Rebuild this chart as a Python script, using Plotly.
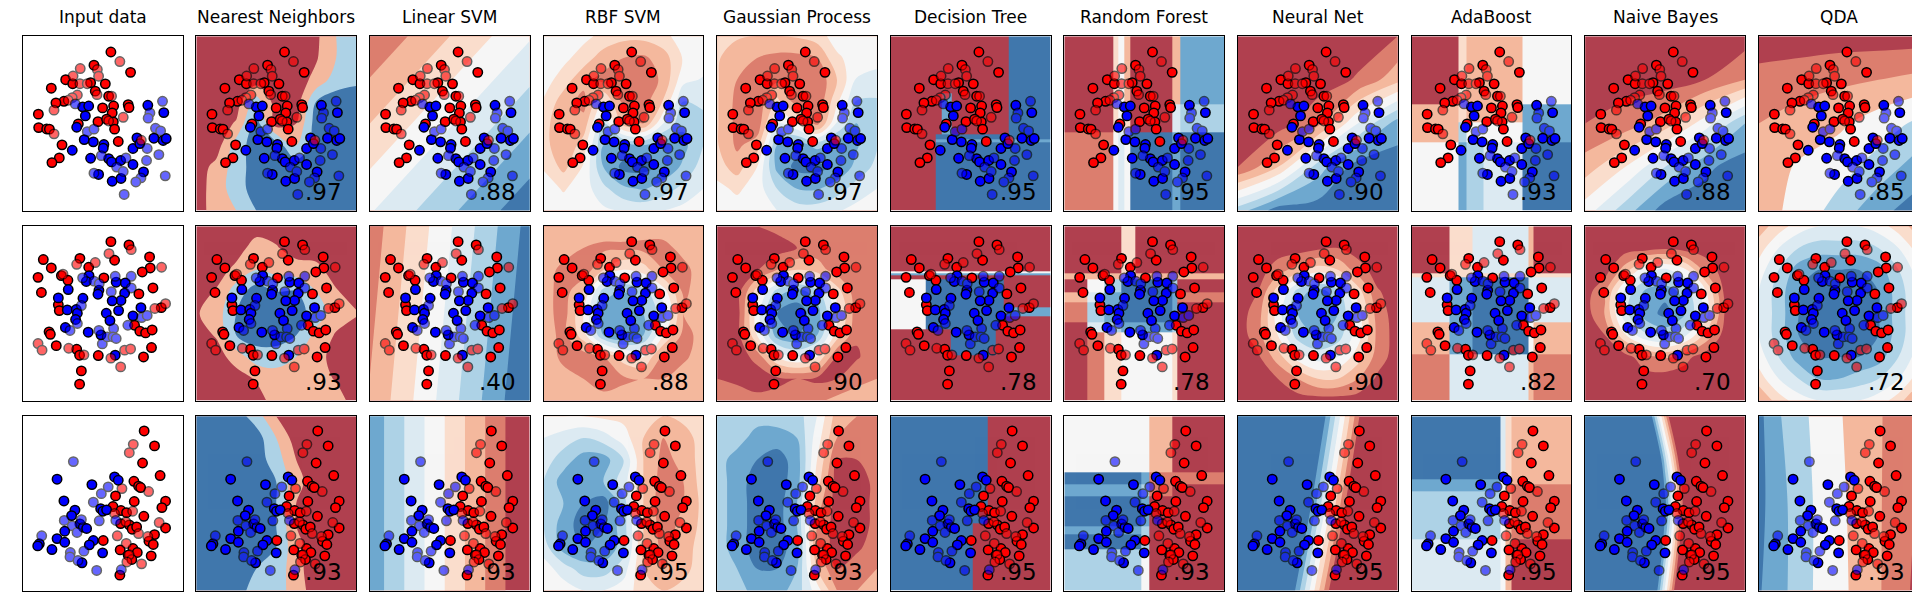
import numpy as np
import plotly.graph_objects as go

W, H = 1920, 597

TITLES = ["Input data", "Nearest Neighbors", "Linear SVM", "RBF SVM", "Gaussian Process",
          "Decision Tree", "Random Forest", "Neural Net", "AdaBoost", "Naive Bayes", "QDA"]

SCORES_MOONS = [".97", ".88", ".97", ".97", ".95", ".95", ".90", ".93", ".88", ".85"]
SCORES_CIRCLES = [".93", ".40", ".88", ".90", ".78", ".78", ".90", ".82", ".70", ".72"]
SCORES_LINEAR = [".93", ".93", ".95", ".93", ".95", ".93", ".95", ".95", ".95", ".93"]

# ---- points (panel spans 0..10 on both axes) ----
MOONS_RED_TRAIN = [(5.52, 9.10), (4.46, 8.34), (6.75, 7.93), (2.69, 7.51), (3.13, 7.28), (4.25, 7.34),
                   (5.17, 7.27), (1.79, 7.02), (4.54, 6.85), (5.38, 6.56), (2.58, 6.27), (2.08, 6.18),
                   (0.98, 5.53), (5.00, 5.89), (5.69, 6.00), (6.60, 6.08), (6.65, 5.91), (5.60, 5.60),
                   (4.71, 5.10), (5.25, 5.24), (5.67, 5.09), (3.48, 4.97), (5.75, 4.67), (1.00, 4.76),
                   (1.50, 4.68), (1.67, 4.67), (2.46, 3.77), (5.98, 3.96), (2.29, 3.02), (1.83, 2.75)]
MOONS_RED_TEST = [(6.08, 8.55), (3.60, 8.15), (4.67, 8.09), (4.75, 7.71), (3.15, 7.72), (3.58, 7.28),
                  (4.04, 7.28), (4.65, 6.65), (5.56, 6.56), (3.42, 6.63), (3.10, 6.48), (2.85, 6.33),
                  (1.96, 5.76), (6.29, 5.35), (5.38, 5.14), (1.96, 4.40), (7.42, 4.03)]
MOONS_BLUE_TRAIN = [(3.75, 5.95), (4.13, 6.00), (3.92, 5.43), (3.38, 4.78), (3.85, 4.07), (4.42, 3.94),
                    (5.08, 3.79), (5.04, 3.58), (4.25, 3.00), (3.10, 3.46), (7.83, 6.04), (8.83, 5.62),
                    (8.21, 4.15), (8.79, 4.02), (8.98, 4.13), (7.15, 4.17), (6.90, 3.56), (7.33, 3.84),
                    (5.38, 2.98), (5.56, 2.79), (6.13, 2.87), (5.60, 1.68), (4.75, 2.07), (6.15, 1.84),
                    (6.90, 2.64), (7.56, 2.22)]
MOONS_BLUE_TEST = [(8.75, 6.27), (7.96, 5.60), (7.85, 5.30), (3.29, 6.12), (4.04, 4.53), (4.46, 4.67),
                   (8.31, 4.72), (8.63, 4.57), (7.79, 3.56), (7.75, 2.87), (8.52, 3.21), (4.92, 3.15),
                   (5.88, 2.49), (6.46, 3.02), (6.29, 2.24), (4.46, 2.14), (7.40, 1.87), (7.08, 1.64),
                   (8.92, 1.99), (6.35, 0.92)]

CIRCLES_RED_TRAIN = [(5.52, 9.12), (6.65, 8.93), (5.75, 8.05), (3.58, 8.16), (1.29, 8.09), (1.79, 7.61),
                     (4.13, 7.65), (7.94, 8.24), (7.98, 7.61), (7.48, 7.38), (0.96, 7.07), (2.42, 7.17),
                     (2.83, 6.90), (5.08, 7.04), (1.17, 6.20), (8.15, 6.46), (7.27, 6.12), (2.23, 5.49),
                     (2.29, 5.16), (8.67, 5.33), (7.00, 4.32), (7.33, 3.98), (7.69, 3.88), (8.10, 4.05),
                     (1.65, 3.94), (1.73, 3.80), (2.10, 3.15), (3.38, 2.94), (3.56, 2.60), (4.73, 2.58),
                     (8.06, 3.04), (7.56, 2.50), (3.67, 1.70), (3.56, 0.94)]
CIRCLES_RED_TEST = [(6.79, 8.66), (5.40, 8.43), (3.38, 7.82), (4.54, 7.92), (8.69, 7.65), (2.52, 7.25),
                    (8.27, 5.28), (8.94, 5.56), (0.96, 3.27), (1.21, 2.89), (2.88, 3.00), (3.83, 2.62),
                    (5.52, 2.43), (6.38, 2.89), (6.75, 2.96), (6.13, 1.93)]
CIRCLES_BLUE_TRAIN = [(4.15, 7.17), (3.98, 6.83), (2.85, 6.37), (4.77, 6.33), (4.71, 6.10), (5.85, 6.79),
                      (6.42, 6.75), (6.38, 6.16), (6.15, 5.74), (5.60, 5.72), (2.23, 5.89), (3.77, 5.87),
                      (2.79, 5.20), (3.35, 5.22), (3.42, 5.01), (3.31, 4.65), (6.00, 5.16), (5.23, 5.01),
                      (5.46, 4.59), (7.40, 5.33), (6.90, 4.86), (2.67, 4.19), (4.10, 3.92), (4.90, 3.77),
                      (5.79, 2.60)]
CIRCLES_BLUE_TEST = [(3.75, 7.04), (4.46, 6.85), (4.79, 6.71), (5.79, 7.13), (6.79, 7.13), (6.79, 6.46),
                     (5.54, 6.25), (3.67, 5.45), (3.42, 4.42), (2.96, 4.02), (4.77, 4.02), (5.69, 4.13),
                     (6.58, 4.32), (7.44, 4.76), (7.79, 4.88), (4.98, 3.25), (5.29, 3.65), (5.65, 3.65),
                     (5.85, 3.56)]

LINEAR_RED_TRAIN = [(7.60, 9.16), (8.25, 8.30), (7.50, 7.32), (8.60, 6.60), (6.96, 6.27), (7.25, 5.99),
                    (7.38, 5.91), (5.81, 5.43), (6.98, 5.11), (8.94, 5.13), (8.71, 4.76), (5.65, 4.82),
                    (6.15, 4.59), (6.50, 4.47), (7.58, 4.26), (6.13, 3.84), (6.67, 3.77), (6.85, 3.52),
                    (7.13, 3.65), (8.94, 3.59), (8.25, 3.21), (7.90, 2.83), (8.17, 2.64), (5.04, 2.87),
                    (6.10, 2.33), (6.90, 2.41), (7.17, 2.18), (6.60, 2.03), (6.83, 1.78), (8.04, 1.99),
                    (6.08, 0.88)]
LINEAR_RED_TEST = [(6.92, 8.39), (6.67, 7.91), (6.21, 5.85), (7.88, 5.68), (5.75, 4.42), (6.88, 4.55),
                   (6.46, 3.94), (7.25, 3.27), (8.54, 3.90), (5.92, 3.14), (7.83, 3.10), (6.48, 2.70),
                   (6.67, 2.05), (6.52, 1.64), (7.44, 1.53)]
LINEAR_BLUE_TRAIN = [(2.15, 6.39), (4.33, 6.08), (5.75, 6.52), (5.98, 6.33), (2.58, 5.14), (3.27, 4.61),
                     (3.06, 4.30), (4.88, 4.70), (5.02, 4.55), (5.25, 4.63), (3.58, 3.82), (3.79, 3.63),
                     (4.00, 3.56), (2.63, 3.40), (2.15, 2.98), (2.63, 2.77), (1.04, 2.68), (0.94, 2.56),
                     (1.83, 2.35), (4.42, 2.87), (4.17, 2.62), (5.00, 2.16), (3.71, 1.59)]
LINEAR_BLUE_TEST = [(6.17, 1.19), (3.17, 7.40), (5.35, 5.95), (4.92, 5.56), (4.42, 5.07), (2.60, 4.02),
                    (3.10, 3.71), (3.67, 4.07), (3.40, 3.33), (4.79, 4.00), (5.83, 4.02), (1.19, 3.14),
                    (2.98, 2.18), (2.96, 1.93), (3.46, 1.72), (3.83, 2.26), (4.63, 1.15)]

# ---- surface colours (RdBu at alpha 0.8 on white) ----
DR, SA, PE, LP, WH = "#B0404F", "#DC7E6E", "#F4B89D", "#FADDCC", "#F6F6F6"
VB, LB, MB, DB = "#DCEAF2", "#ADD2E6", "#6EA8CF", "#4077AC"
BANDS9 = [DR, SA, PE, LP, WH, VB, LB, MB, DB]
BANDS_KNN = [DR, PE, LB, DB]
BANDS_QDA = [DR, SA, PE, WH, LB, MB, DB]

# ---- decision surfaces: grids are band levels, rows listed top (y=10) to bottom (y=0) ----
MOONS_KNN = [[0, 0, 0, 0, 0, 0, 0.3, 1.5, 2],
             [0, 0, 0, 0, 0, 0, 0.4, 1.5, 2],
             [0, 0, 0, 0, 0, 0, 0.8, 2, 2.3],
             [0, 0, 0, 2, 0, 0, 2.5, 3, 3],
             [0, 0, 0.6, 3, 0, 0.5, 3, 3, 3],
             [0, 0, 2, 3, 3, 1.5, 3, 3, 3],
             [0, 0.8, 2, 3, 3, 3, 3, 3, 3],
             [0, 1, 2, 3, 3, 3, 3, 3, 3],
             [0, 1, 1.5, 2.5, 3, 3, 3, 3, 3]]
MOONS_LSVM = [[0.6, 2.5, 4.4],
              [2.5, 4.4, 6.3],
              [4.4, 6.3, 8.2]]
MOONS_RBF = [[4, 4, 3.8, 3.2, 2.8, 2.8, 3.2, 4, 4],
             [4, 3.8, 3.0, 2.0, 1.5, 1.3, 2.0, 3.6, 4],
             [4, 3.0, 1.8, 1.2, 0.9, 0.9, 1.7, 4.2, 4.6],
             [3.4, 2.0, 1.2, 3.5, 1.2, 1.0, 2.6, 5.5, 5.3],
             [3.0, 1.5, 1.8, 5.5, 2.0, 1.5, 4.5, 6.3, 5.8],
             [3.0, 1.5, 3.0, 6.5, 6.8, 6.5, 7, 6.8, 5.5],
             [3.4, 2.2, 3.6, 6.5, 7.8, 7.8, 7.3, 6.3, 5],
             [4, 3.4, 4, 5.2, 6.3, 6.6, 6, 5.2, 4.5],
             [4, 4, 4, 4.3, 4.6, 4.8, 4.5, 4.2, 4]]
MOONS_GP = [[3, 2.6, 2.5, 2.5, 2.6, 3, 4, 4, 4],
            [2.6, 2, 1.5, 1.2, 1.2, 1.5, 3.3, 4, 4],
            [2.6, 1.5, 1, 1.3, 0.6, 0.6, 2.5, 4.6, 5],
            [2.6, 1.2, 0.7, 2.8, 1, 0.6, 3.3, 5.6, 5.6],
            [2.6, 1.2, 0.8, 4.5, 3.5, 1, 4.6, 6.5, 6],
            [2.6, 1.3, 2, 6.5, 7, 6.2, 6.8, 6.6, 5.6],
            [3, 2, 3.5, 6.8, 7.8, 7.8, 7.3, 6.2, 5.2],
            [3.8, 3.3, 4, 5.5, 6.5, 6.6, 6, 5, 4.5],
            [4, 4, 4, 4.5, 5, 5, 4.6, 4.2, 4]]
MOONS_TREE = ([0, 2.84, 3.19, 3.82, 7.40, 10], [0, 3.9, 4.06, 4.38, 6.70, 10],
              [[0, 0, 0, 0, 8],
               [0, 0, 7, 0, 8],
               [0, 8, 8, 8, 8],
               [0, 7, 7, 7, 7],
               [0, 8, 8, 8, 8]])
MOONS_FOREST = ([0, 3.05, 3.4, 3.75, 4.1, 6.74, 7.26, 10], [0, 4.48, 6.1, 10],
                [[0, 3, 4, 2, 0, 2, 7],
                 [0, 3, 4, 3, 0, 5, 6],
                 [1, 4, 5, 4, 8, 7, 8]])
MOONS_MLP = [[0, 0, 0, 0, 0.5],
             [0, 0, 0, 0.6, 2.2],
             [0, 0, 1.2, 4.5, 7],
             [0.5, 2.5, 6, 8, 8],
             [6, 8, 8, 8, 8]]
MOONS_ADA = ([0, 2.91, 3.44, 4.49, 6.95, 10], [0, 3.9, 5.05, 6.1, 10],
             [[0, 3, 2, 2, 4],
              [2, 3, 2, 2, 7],
              [2, 6, 4, 4, 7],
              [4, 7, 6, 5, 8]])
MOONS_NB = [[0, 0, 0, 0, 0],
            [0, 0, 0, 0.5, 1.5],
            [0.5, 1, 2, 4, 6.5],
            [2, 3.5, 5.5, 7.3, 8],
            [4, 6, 8, 8, 8]]
MOONS_QDA = [[0, 0, 0, 0, 0],
             [0.8, 1.0, 1.3, 1.5, 1.8],
             [1.5, 2.0, 2.3, 3.0, 3.7],
             [2.0, 2.6, 3.1, 3.9, 5.0],
             [2.0, 2.85, 3.9, 5.2, 6.0]]

CIRCLES_KNN = [[0, 0, 0, 0, 0, 0, 0, 0, 0],
               [0, 0, 0, 1, 0.6, 0, 0, 0, 0],
               [0, 0, 0.8, 1.5, 1.2, 1, 0.8, 0, 0],
               [0, 0.6, 2, 3, 2.5, 2.5, 1.5, 0.6, 0],
               [0.4, 1, 2.5, 3, 3, 3, 2, 1, 0.6],
               [0, 0.6, 2.5, 3, 3, 2.5, 1.2, 0.4, 0],
               [0, 0, 1, 2, 2, 1.5, 1, 0, 0],
               [0, 0, 0, 0.6, 1, 1, 1, 0.4, 0],
               [0, 0, 0, 0, 1, 1, 1, 1, 0]]
CIRCLES_LSVM = [[0.9, 4.4, 7.9],
                [1.25, 4.75, 8.25],
                [1.6, 5.1, 8.6]]
CIRCLES_RBF = [[2, 2, 2, 2, 2, 2, 2, 2, 2],
               [2, 2, 1.5, 1.3, 1.3, 1.2, 1.2, 1.8, 2],
               [2, 1.2, 0.8, 2.5, 3.5, 3, 1.5, 1.2, 2],
               [2, 1, 2.5, 6, 6.5, 6, 4, 1.3, 2],
               [2, 1, 3.5, 7, 7, 6.5, 5, 1.5, 2],
               [2, 1.2, 3, 6.5, 7.5, 6.5, 3.5, 1.2, 1.8],
               [2, 1.3, 1, 1.5, 3, 3.5, 1.2, 1.3, 2],
               [2, 1.8, 1.5, 0.8, 1.3, 1.5, 1.5, 2, 2],
               [2, 2, 2, 2, 2, 2, 2, 2, 2]]
CIRCLES_GP = [[0.5, 0.5, 0.5, 0.8, 1, 1, 1, 1, 1],
              [0.3, 0, 0, 0, 0.5, 1, 1, 1, 1],
              [0.3, 0, 0.4, 1.5, 2.5, 2, 1, 0.8, 1],
              [0.3, 0, 3, 6, 7, 6, 3, 0.8, 1],
              [0.3, 0, 4, 7.5, 8, 7, 4, 0.8, 1],
              [0.3, 0, 3.5, 7, 7.5, 6.5, 3, 0.6, 1],
              [0.3, 0, 0.8, 3.5, 4.5, 3.5, 0.5, 0.4, 1],
              [0.5, 0.3, 0, 0.3, 0.5, 0.3, 0.5, 1.2, 1.5],
              [1, 1, 0.8, 0.8, 1, 1.3, 1.8, 2, 2]]
CIRCLES_TREE = ([0, 2.18, 3.75, 6.56, 7.09, 10], [0, 2.57, 4.1, 4.86, 5.33, 6.95, 7.2, 7.32, 7.42, 10],
                [[0, 0, 0, 0, 0],
                 [4, 4, 4, 4, 4],
                 [7, 7, 7, 7, 7],
                 [0, 0, 0, 0, 0],
                 [4, 8, 8, 8, 0],
                 [4, 8, 8, 8, 7],
                 [4, 8, 8, 8, 0],
                 [0, 0, 8, 0, 0],
                 [0, 0, 0, 0, 0]])
CIRCLES_FOREST = ([0, 1.47, 2.53, 3.58, 4.46, 6.74, 7.09, 10], [0, 3.9, 4.48, 5.62, 6.19, 6.95, 7.33, 10],
                  [[0, 0, 0, 3, 0, 0, 0],
                   [2, 2, 2, 3, 2, 2, 2],
                   [0, 4, 6, 8, 8, 6, 0],
                   [2, 5, 7, 8, 8, 7, 1],
                   [1, 6, 7, 8, 8, 7, 0],
                   [0, 5, 6, 7, 7, 6, 0],
                   [0, 1, 3, 4, 4, 3, 0]])
CIRCLES_MLP = [[0, 0, 0, 0, 0, 0, 0, 0, 0],
               [0, 0, 0, 0, 0.3, 0.5, 0, 0, 0],
               [0, 0, 1, 2, 3, 2.5, 1, 0, 0],
               [0, 0.5, 3, 6, 7, 6, 3, 0.6, 0],
               [0, 1, 4, 6.5, 7.5, 6.5, 4, 1, 0],
               [0, 1, 3.5, 6, 6.5, 6, 4, 1.2, 0],
               [0, 0.3, 2, 4, 5, 4.5, 3, 1, 0],
               [0, 0, 0.5, 1.5, 2.5, 2.5, 1.5, 0.3, 0],
               [0, 0, 0, 0, 0, 0, 0, 0, 0]]
CIRCLES_ADA = ([0, 2.39, 3.79, 7.3, 7.65, 10], [0, 2.67, 4.48, 7.05, 7.33, 10],
               [[0, 3, 5, 2, 0],
                [3, 3, 3, 3, 3],
                [5, 7, 8, 5, 5],
                [2, 7, 8, 4, 2],
                [1, 5, 5, 2, 1]])
CIRCLES_NB = [[0, 0, 0, 0, 0, 0, 0, 0, 0],
              [0, 0, 0, 0, 0.3, 0, 0, 0, 0],
              [0, 0, 2, 4.2, 4.7, 3.7, 1.2, 0, 0],
              [0, 1.4, 4.8, 6.7, 7.2, 6.1, 3.8, 0.2, 0],
              [0, 1.6, 5.2, 7, 7.8, 6.6, 4.1, 0.4, 0],
              [0, 0.5, 3.4, 5.3, 5.8, 4.7, 2.3, 0, 0],
              [0, 0, 0, 1.2, 1.6, 0.8, 0, 0, 0],
              [0, 0, 0, 0, 0, 0, 0, 0, 0],
              [0, 0, 0, 0, 0, 0, 0, 0, 0]]
CIRCLES_QDA = [[2, 3, 4, 4.5, 4.5, 4.5, 4, 3, 2],
               [3, 4.5, 5.5, 6, 6, 6, 5.5, 4.5, 3],
               [4, 5.5, 7, 7.5, 7.5, 7.5, 7, 5.5, 4],
               [4.5, 6, 7.5, 8, 8, 8, 7.5, 6, 4.5],
               [4.5, 6, 7.5, 8, 8, 8, 7.5, 6, 4.5],
               [4.5, 6, 7.5, 8, 8, 8, 7.5, 6, 4.5],
               [4, 5.5, 7, 7.5, 7.5, 7.5, 7, 5.5, 4],
               [3, 4.5, 5.5, 6.5, 6.5, 6, 5.5, 4.5, 3],
               [1.5, 3, 4, 4.5, 4.5, 4.5, 4, 3, 1]]

LINEAR_KNN = [[3, 3, 3, 2, 0.5, 0, 0, 0, 0],
              [3, 3, 3, 3, 1.5, 0, 0, 0, 0],
              [3, 3, 3, 3, 2, 0.5, 0, 0, 0],
              [3, 3, 3, 3, 2.5, 0.8, 0, 0, 0],
              [3, 3, 3, 3, 2.5, 0.5, 0, 0, 0],
              [3, 3, 3, 3, 2.5, 0.5, 0, 0, 0],
              [3, 3, 3, 3, 2.5, 0.8, 0, 0, 0],
              [3, 3, 3, 2.5, 2.2, 0.8, 0, 0, 0],
              [3, 3, 3, 2, 2, 1, 0, 0, 0]]
LINEAR_LSVM = [[7.2, 3.25, -0.7],
               [7.2, 3.25, -0.7]]
LINEAR_RBF = [[3.5, 3.5, 3.5, 3.3, 3.2, 2.8, 2.5, 2.8, 3],
              [4.5, 5, 5.5, 5, 4, 2.5, 1.5, 2, 3],
              [5, 6, 7, 7, 5.5, 2.5, 1.2, 1.8, 3],
              [5.5, 7, 7.5, 6.5, 5, 2.5, 1, 1.5, 3],
              [5.5, 6.5, 7.5, 8, 6, 2.5, 0.8, 1.5, 2.8],
              [5.5, 7, 8, 7.5, 6, 2.5, 1, 1.8, 2.8],
              [5, 7, 7.5, 7.5, 6, 2.5, 1.2, 2, 3],
              [4, 5, 6, 6, 5, 2.5, 1.5, 2.2, 3],
              [3.5, 4, 4.5, 4.5, 4, 3, 2.5, 2.8, 3]]
LINEAR_GP = [[6, 6, 6, 6, 6, 4.5, 2, 1.5, 1],
             [6, 6, 7, 7, 6.5, 4, 1.5, 1, 1],
             [6, 7, 7.5, 8, 7, 3.5, 0.5, 0.5, 1],
             [6, 7, 8, 8, 7, 3, 0, 0, 0.8],
             [6, 7, 8, 8, 6.5, 2, 0, 0, 0.8],
             [6, 7, 8, 8, 6.5, 1.5, 0, 0, 0.8],
             [6, 7, 8, 8, 7, 1.5, 0, 0.3, 1],
             [6, 6.5, 7.5, 7.5, 6.5, 2.5, 0.5, 1, 1.5],
             [6, 6, 7, 7, 6, 4, 1.5, 1.5, 2]]
LINEAR_TREE = ([0, 5.16, 6.1, 10], [0, 3.85, 10],
               [[8, 8, 0],
                [8, 0, 0]])
LINEAR_FOREST = ([0, 4.81, 5.33, 6.74, 10], [0, 2.38, 3.24, 3.71, 5.43, 6.1, 6.76, 10],
                 [[4, 4, 2, 0],
                  [8, 7, 1, 1],
                  [7, 6, 1, 0],
                  [8, 7, 0, 0],
                  [7, 6, 0, 0],
                  [8, 6, 0, 0],
                  [6, 4, 0, 0]])
LINEAR_MLP = [[25.6, 9.1, -7.4],
              [22.7, 6.2, -10.3],
              [19.3, 2.8, -13.7]]
LINEAR_ADA = ([0, 5.54, 5.9, 6.25, 10], [0, 2.95, 5.71, 6.1, 6.38, 10],
              [[8, 5, 3, 2],
               [7, 4, 2, 2],
               [7, 4, 2, 1],
               [6, 4, 2, 1],
               [5, 4, 2, 0]])
LINEAR_NB = [[35.5, 2.0, -31.5],
             [39.5, 6.0, -27.5],
             [41.4, 7.9, -25.6],
             [40.0, 6.5, -27.0],
             [37.8, 4.3, -29.2]]
LINEAR_QDA = [[5.8, 4.6, 3.8, 3.2, 2.6, 2.1, 1.6, 1.1, 0.6],
              [5.8, 4.9, 4.0, 3.3, 2.7, 2.2, 1.6, 1.0, 0.4],
              [5.6, 4.9, 4.0, 3.3, 2.8, 2.2, 1.6, 0.9, 0.2]]

ROWS = [
    dict(points=(MOONS_RED_TRAIN, MOONS_BLUE_TRAIN, MOONS_RED_TEST, MOONS_BLUE_TEST),
         scores=SCORES_MOONS,
         surfaces=[(BANDS_KNN, MOONS_KNN), (BANDS9, MOONS_LSVM), (BANDS9, MOONS_RBF), (BANDS9, MOONS_GP),
                   (BANDS9, MOONS_TREE), (BANDS9, MOONS_FOREST), (BANDS9, MOONS_MLP), (BANDS9, MOONS_ADA),
                   (BANDS9, MOONS_NB), (BANDS_QDA, MOONS_QDA)]),
    dict(points=(CIRCLES_RED_TRAIN, CIRCLES_BLUE_TRAIN, CIRCLES_RED_TEST, CIRCLES_BLUE_TEST),
         scores=SCORES_CIRCLES,
         surfaces=[(BANDS_KNN, CIRCLES_KNN), (BANDS9, CIRCLES_LSVM), (BANDS9, CIRCLES_RBF), (BANDS9, CIRCLES_GP),
                   (BANDS9, CIRCLES_TREE), (BANDS9, CIRCLES_FOREST), (BANDS9, CIRCLES_MLP), (BANDS9, CIRCLES_ADA),
                   (BANDS9, CIRCLES_NB), (BANDS9, CIRCLES_QDA)]),
    dict(points=(LINEAR_RED_TRAIN, LINEAR_BLUE_TRAIN, LINEAR_RED_TEST, LINEAR_BLUE_TEST),
         scores=SCORES_LINEAR,
         surfaces=[(BANDS_KNN, LINEAR_KNN), (BANDS9, LINEAR_LSVM), (BANDS9, LINEAR_RBF), (BANDS9, LINEAR_GP),
                   (BANDS9, LINEAR_TREE), (BANDS9, LINEAR_FOREST), (BANDS9, LINEAR_MLP), (BANDS9, LINEAR_ADA),
                   (BANDS9, LINEAR_NB), (BANDS_QDA, LINEAR_QDA)]),
]

# panel geometry in pixels
PANEL_W, PANEL_H = 159.8, 174.2
LEFT0, STEP_X = 14.7, 173.6
TOP0, STEP_Y = 28.3, 190.0


def band_scale(bands):
    n = len(bands)
    return [[k / (n - 1), c] for k, c in enumerate(bands)]


def surface_trace(bands, data, xa, ya):
    n = len(bands)
    if isinstance(data, tuple):
        xe, ye, rows = data
        return go.Heatmap(x=xe, y=ye, z=rows[::-1], zmin=0, zmax=n - 1, colorscale=band_scale(bands),
                          showscale=False, hoverinfo="skip", xaxis=xa, yaxis=ya)
    z = np.array(data, dtype=float)[::-1]
    ny, nx = z.shape
    return go.Contour(x=np.linspace(0, 10, nx), y=np.linspace(0, 10, ny), z=z,
                      autocontour=False,
                      contours=dict(start=0.5, end=n - 1.5, size=1, coloring="fill", showlines=False),
                      colorscale=band_scale(bands), line=dict(width=0), showscale=False,
                      hoverinfo="skip", xaxis=xa, yaxis=ya)


def point_trace(pts, color, test, xa, ya):
    return go.Scatter(x=[p[0] for p in pts], y=[p[1] for p in pts], mode="markers",
                      marker=dict(size=9.4, color=color, line=dict(color="black", width=1.5)),
                      opacity=0.6 if test else 1.0, hoverinfo="skip", showlegend=False,
                      xaxis=xa, yaxis=ya)


fig = go.Figure()
layout = {}
annotations = []

for r, row in enumerate(ROWS):
    red_tr, blue_tr, red_te, blue_te = row["points"]
    for c in range(11):
        i = r * 11 + c + 1
        xa = "x" if i == 1 else f"x{i}"
        ya = "y" if i == 1 else f"y{i}"
        left = LEFT0 + STEP_X * c
        top = TOP0 + STEP_Y * r
        base = dict(range=[0, 10], showticklabels=False, ticks="", showgrid=False, zeroline=False,
                    showline=True, mirror=True, linecolor="black", linewidth=1, fixedrange=True)
        layout["xaxis" if i == 1 else f"xaxis{i}"] = dict(base, domain=[left / W, (left + PANEL_W) / W], anchor=ya)
        layout["yaxis" if i == 1 else f"yaxis{i}"] = dict(base, domain=[1 - (top + PANEL_H) / H, 1 - top / H],
                                                          anchor=xa)
        if c > 0:
            bands, data = row["surfaces"][c - 1]
            fig.add_trace(surface_trace(bands, data, xa, ya))
        fig.add_trace(point_trace(red_tr, "#FF0000", False, xa, ya))
        fig.add_trace(point_trace(blue_tr, "#0000FF", False, xa, ya))
        fig.add_trace(point_trace(red_te, "#FF0000", True, xa, ya))
        fig.add_trace(point_trace(blue_te, "#0000FF", True, xa, ya))
        if c > 0:
            annotations.append(dict(text=row["scores"][c - 1], xref=xa, yref=ya, x=9.25, y=0.2,
                                    xanchor="right", yanchor="bottom", showarrow=False,
                                    font=dict(family="DejaVu Sans", size=23, color="black")))
        if r == 0:
            annotations.append(dict(text=TITLES[c], xref="paper", yref="paper",
                                    x=(left + PANEL_W / 2) / W, y=1 - 21 / H,
                                    xanchor="center", yanchor="bottom", showarrow=False,
                                    font=dict(family="DejaVu Sans", size=17, color="black")))

fig.update_layout(width=W, height=H, autosize=False, margin=dict(l=0, r=0, t=0, b=0),
                  paper_bgcolor="white", plot_bgcolor="white", showlegend=False,
                  annotations=annotations, **layout)

fig.write_html("out.html")
